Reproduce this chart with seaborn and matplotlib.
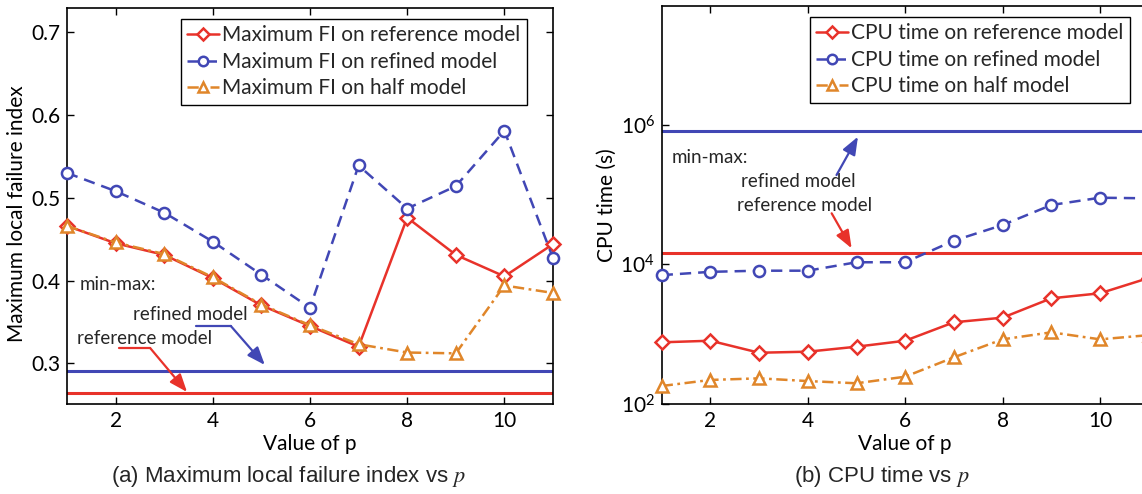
import numpy as np
import pandas as pd
import matplotlib
matplotlib.use("Agg")
import matplotlib.pyplot as plt
import seaborn as sns

# ---------------- data ----------------
p_values = [1, 2, 3, 4, 5, 6, 7, 8, 9, 10, 11]

fi_reference = [0.466, 0.445, 0.431, 0.403, 0.370, 0.345, 0.320, 0.476, 0.431, 0.405, 0.444]
fi_refined = [0.530, 0.508, 0.482, 0.447, 0.407, 0.367, 0.539, 0.487, 0.514, 0.581, 0.427]
fi_half = [0.466, 0.446, 0.432, 0.404, 0.371, 0.346, 0.323, 0.313, 0.312, 0.394, 0.385]
fi_minmax_refined = 0.291
fi_minmax_reference = 0.264

cpu_reference = [764, 805, 542, 561, 661, 805, 1479, 1722, 3260, 3846, 6370]
cpu_refined = [7000, 7800, 8100, 8100, 10700, 10700, 21800, 36500, 70600, 89800, 88000]
cpu_half = [181, 221, 233, 213, 198, 246, 466, 843, 1062, 843, 968]
cpu_minmax_refined = 8.1e5
cpu_minmax_reference = 1.47e4

fi_labels = ["Maximum FI on reference model", "Maximum FI on refined model",
             "Maximum FI on half model"]
cpu_labels = ["CPU time on reference model", "CPU time on refined model",
              "CPU time on half model"]

# ---------------- style ----------------
sns.set_theme(style="white")
plt.rcParams["font.family"] = ["Lato", "DejaVu Sans"]
plt.rcParams["mathtext.fontset"] = "stix"

RED = "#e8322a"
BLUE = "#4147b5"
ORANGE = "#e0862a"
FS = 15

fig = plt.figure(figsize=(11.42, 4.94), dpi=100)
W, H = 1142, 494
ax1 = fig.add_axes([67 / W, (H - 404) / H, 486 / W, 396 / H])
ax2 = fig.add_axes([661.7 / W, (H - 404) / H, 487 / W, 398 / H])

series_styles = [
    dict(color=RED, marker="D", linestyle="-", markersize=7.5),
    dict(color=BLUE, marker="o", linestyle=(0, (4.5, 2.8)), markersize=8),
    dict(color=ORANGE, marker="^", linestyle=(0, (4.5, 1.8, 1.1, 1.8)), markersize=8.5),
]


def draw(ax, ys, labels):
    for y, lab, st in zip(ys, labels, series_styles):
        df = pd.DataFrame({"p": p_values, "v": y})
        sns.lineplot(data=df, x="p", y="v", ax=ax, label=lab, color=st["color"],
                     marker=st["marker"], linestyle=st["linestyle"],
                     markersize=st["markersize"], markerfacecolor="white",
                     markeredgecolor=st["color"], markeredgewidth=1.8,
                     linewidth=1.8, clip_on=False, zorder=3)


draw(ax1, [fi_reference, fi_refined, fi_half], fi_labels)
draw(ax2, [cpu_reference, cpu_refined, cpu_half], cpu_labels)

ax1.axhline(fi_minmax_refined, color=BLUE, lw=2.2, zorder=2)
ax1.axhline(fi_minmax_reference, color=RED, lw=2.2, zorder=2)
ax2.axhline(cpu_minmax_refined, color=BLUE, lw=2.2, zorder=2)
ax2.axhline(cpu_minmax_reference, color=RED, lw=2.2, zorder=2)

# axes limits / ticks
ax1.set_xlim(1, 11)
ax1.set_ylim(0.2508, 0.7293)
ax1.set_xticks([2, 4, 6, 8, 10])
ax1.set_yticks([0.3, 0.4, 0.5, 0.6, 0.7])
ax1.set_yticklabels(["0.3", "0.4", "0.5", "0.6", "0.7"])

ax2.set_xlim(1, 11)
ax2.set_yscale("log")
ax2.set_ylim(1e2, 10 ** 7.698)
ax2.set_xticks([2, 4, 6, 8, 10])
ax2.yaxis.set_major_locator(matplotlib.ticker.FixedLocator([1e2, 1e4, 1e6]))
ax2.yaxis.set_minor_locator(matplotlib.ticker.NullLocator())

for ax in (ax1, ax2):
    for s in ax.spines.values():
        s.set_color("black")
        s.set_linewidth(1.2)
        s.set_visible(True)
    ax.tick_params(axis="both", which="both", direction="in", length=5, width=1,
                   top=True, right=True, bottom=True, left=True,
                   labelsize=FS, colors="black", pad=5)
    ax.set_xlabel("Value of p", fontsize=FS, color="black", labelpad=2)
    ax.grid(False)

ax1.set_ylabel("Maximum local failure index", fontsize=FS, color="black")
ax2.set_ylabel("CPU time (s)", fontsize=FS, color="black")
ax1.yaxis.set_label_coords(-0.082, 0.48)
ax2.yaxis.set_label_coords(-0.093, 0.5)

# legends
for ax, anchor in ((ax1, (0.9465, 0.972)), (ax2, (0.9616, 0.972))):
    leg = ax.legend(loc="upper right", bbox_to_anchor=anchor, borderaxespad=0,
                    fontsize=FS, frameon=True, fancybox=False, framealpha=1,
                    edgecolor="black", handlelength=1.55, handletextpad=0.15,
                    labelspacing=0.31, borderpad=0.3, markerscale=0.85)
    leg.get_frame().set_linewidth(1.0)

# annotations (left)
ANN = 13.5
ax1.text(1.25, 0.3947, "min-max:", fontsize=ANN, va="center", ha="left")
ax1.text(2.36, 0.3584, "refined model", fontsize=ANN, va="center", ha="left")
ax1.text(1.21, 0.3294, "reference model", fontsize=ANN, va="center", ha="left")

arrow_kw = dict(arrowstyle="-|>,head_length=0.9,head_width=0.35", lw=1.6,
                mutation_scale=12, shrinkA=0, shrinkB=0)
ax1.plot([3.65, 4.37], [0.3451, 0.3451], color=BLUE, lw=1.6)
ax1.annotate("", xy=(5.07, 0.298), xytext=(4.37, 0.3451),
             arrowprops=dict(color=BLUE, **arrow_kw))
ax1.plot([2.07, 2.71], [0.3185, 0.3185], color=RED, lw=1.6)
ax1.annotate("", xy=(3.47, 0.2653), xytext=(2.71, 0.3185),
             arrowprops=dict(color=RED, **arrow_kw))

# annotations (right)
ax2.text(1.21, 10 ** 5.522, "min-max:", fontsize=ANN, va="center", ha="left")
ax2.text(3.81, 10 ** 5.183, "refined model", fontsize=ANN, va="center", ha="center")
ax2.text(3.93, 10 ** 4.839, "reference model", fontsize=ANN, va="center", ha="center")
ax2.annotate("", xy=(5.03, 10 ** 5.827), xytext=(4.59, 10 ** 5.278),
             arrowprops=dict(color=BLUE, **arrow_kw))
ax2.annotate("", xy=(4.90, 10 ** 4.229), xytext=(4.49, 10 ** 4.730),
             arrowprops=dict(color=RED, **arrow_kw))

# captions
cap_kw = dict(fontsize=16, ha="center", va="center", family=["Liberation Sans", "DejaVu Sans"])
fig.text(289 / W, (H - 476) / H, r"(a) Maximum local failure index vs $p$", **cap_kw)
fig.text(882 / W, (H - 476) / H, r"(b) CPU time vs $p$", **cap_kw)

fig.savefig("out.png", dpi=100)
